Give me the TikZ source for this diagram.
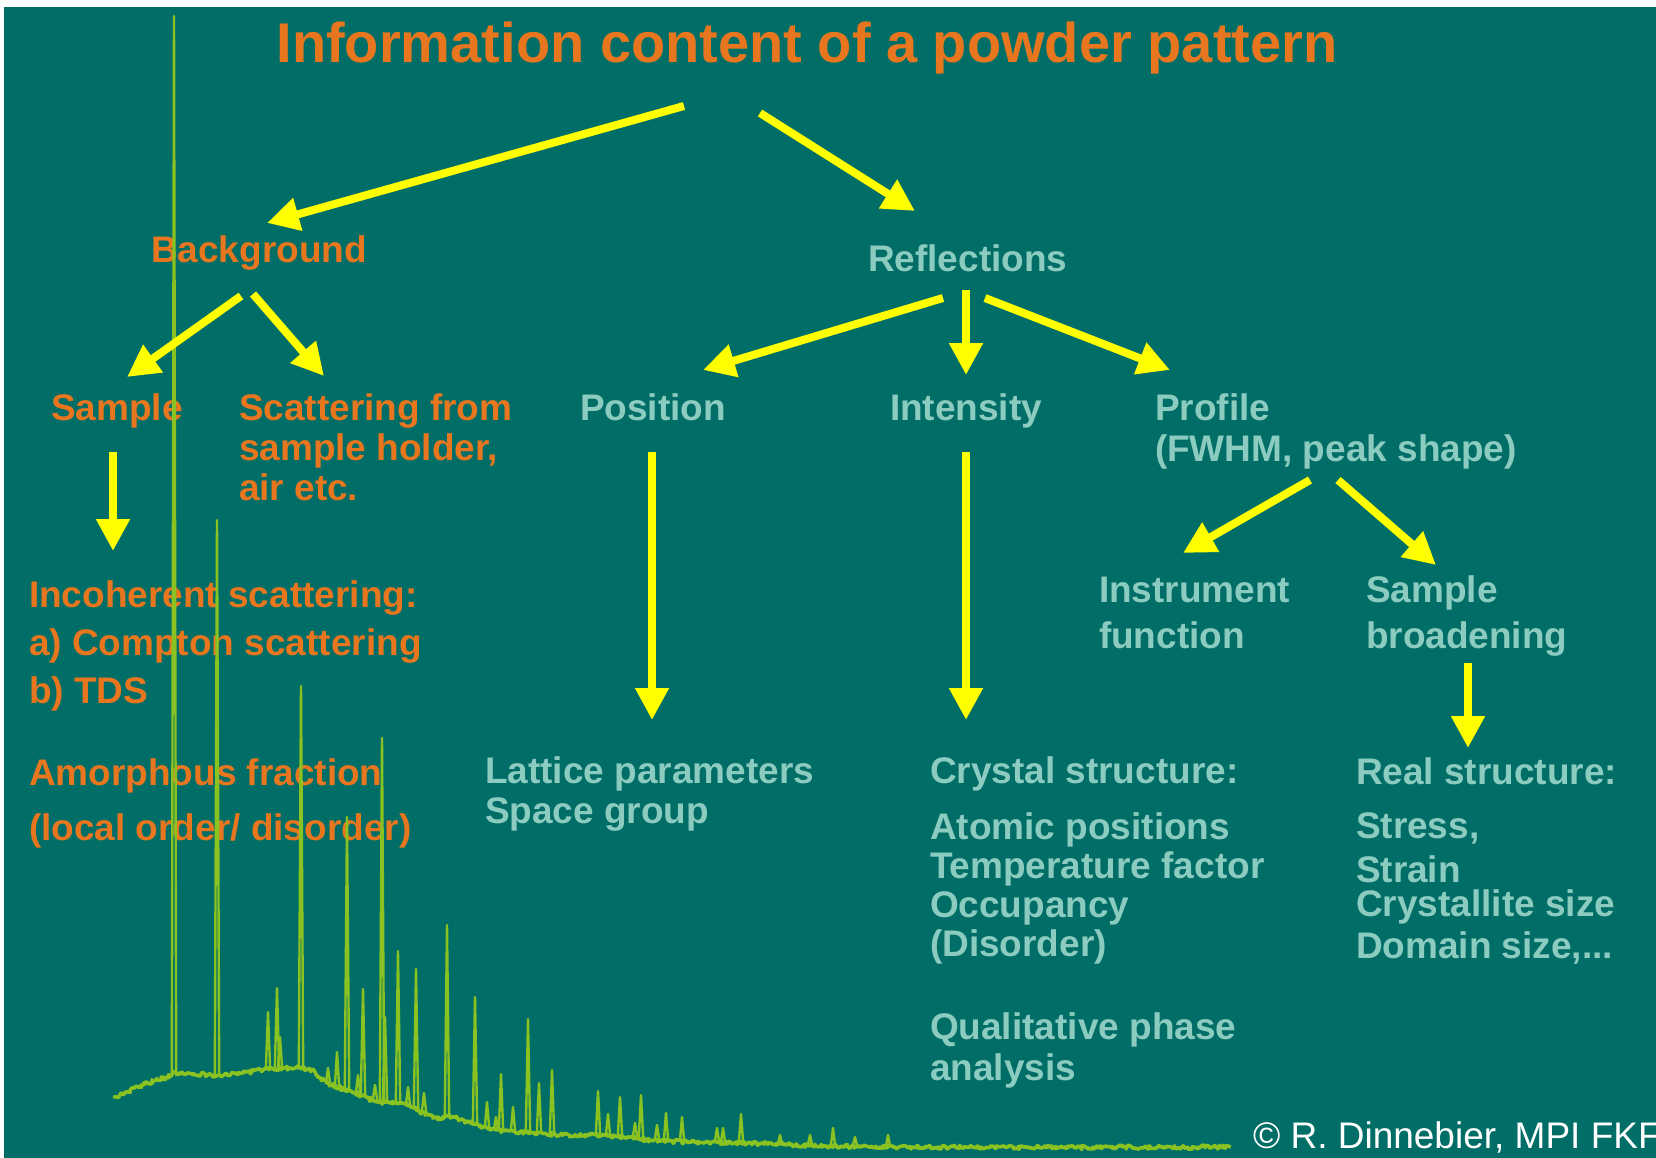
\documentclass[tikz,border=0pt]{standalone}
\usepackage{fontspec}
\setmainfont{Liberation Sans}
\usetikzlibrary{arrows.meta,decorations.pathmorphing}
\definecolor{teal0}{RGB}{0,110,102}
\definecolor{orangetxt}{RGB}{232,118,30}
\definecolor{lighttxt}{RGB}{140,204,192}
\definecolor{specgreen}{RGB}{138,194,34}
\definecolor{arrowyellow}{RGB}{255,255,0}
\newcommand\firstln{\rule{0pt}{30pt}}
\begin{document}
\begin{tikzpicture}[x=1pt,y=-1pt,
  every node/.style={inner sep=0pt, outer sep=0pt},
  lbl/.style={font=\fontsize{37}{40}\selectfont\bfseries, anchor=base west},
  blk/.style={font=\fontsize{37}{#1}\selectfont\bfseries, anchor=north west, align=left},
  org/.style={text=orangetxt},
  lgt/.style={text=lighttxt},
  yarrow/.style={draw=arrowyellow, line width=8pt, -{Triangle[length=32pt,width=32pt]}},
  spec/.style={draw=specgreen, line width=2.4pt, line join=round},
]
\useasboundingbox (0,0) rectangle (1656,1158);
\fill[white] (0,0) rectangle (1656,1158);
\fill[teal0] (4,7.5) rectangle (1656,1158);

% title
\node[font=\fontsize{56}{60}\selectfont\bfseries, text=orangetxt, anchor=base] (title) at (807,63) {Information content of a powder pattern};

% left branch (orange)
\node[lbl, org] (bg) at (151,262) {Background};
\node[lbl, org] (sample) at (51,420) {Sample};
\node[blk=40, org] (scat) at (239,390) {\firstln Scattering from\\sample holder,\\air etc.};
\node[blk=48, org] (incoh) at (29,577) {\firstln Incoherent scattering:\\a) Compton scattering\\b) TDS};
\node[blk=55, org] (amorph) at (29,755) {\firstln Amorphous fraction\\(local order/ disorder)};

% right branch (light)
\node[lbl, lgt] (refl) at (868,272) {Reflections};
\node[lbl, lgt] (pos) at (580,420) {Position};
\node[lbl, lgt] (inten) at (890,420) {Intensity};
\node[blk=41, lgt] (prof) at (1155,390) {\firstln Profile\\(FWHM, peak shape)};
\node[blk=46, lgt] (instr) at (1099,572) {\firstln Instrument\\function};
\node[blk=46, lgt] (sbroad) at (1366,572) {\firstln Sample\\broadening};
\node[blk=40, lgt] (latt) at (485,753) {\firstln Lattice parameters\\Space group};
\node[lbl, lgt] (cryst) at (930,783) {Crystal structure:};
\node[blk=39.3, lgt] (atomic) at (930,809) {\firstln Atomic positions\\Temperature factor\\Occupancy\\(Disorder)};
\node[blk=41, lgt] (qual) at (930,1009) {\firstln Qualitative phase\\analysis};
\node[lbl, lgt] (real) at (1356,784) {Real structure:};
\node[blk=40, lgt] (rlist) at (1356,808) {\firstln Stress,\\[4pt]Strain\\[-6pt]Crystallite size\\[2pt]Domain size,...};

% copyright
\node[font=\fontsize{37}{40}\selectfont, text=white, anchor=base west] (copy) at (1253,1148) {© R. Dinnebier, MPI FKF};

% powder pattern
\pgfmathsetseed{7}
\draw[spec, line width=3.6pt, decorate, decoration={random steps, segment length=1.5pt, amplitude=2pt}]
  plot[smooth, tension=0.5] coordinates {(115,1098) (143,1085) (167,1077) (180,1073) (212,1075) (227,1075) (263,1070) (290,1068) (310,1070) (327,1083) (353,1092) (372,1100) (390,1103) (402,1103) (433,1117) (453,1117) (470,1123) (497,1130) (520,1132) (560,1135) (590,1135) (628,1137) (650,1140) (690,1142) (750,1143) (880,1147) (1230,1147)};
\foreach \px/\pt/\pb in {174/16/1076, 217/520/1075, 268/1012/1070, 277/988/1069, 280/1037/1069, 301/686/1069,
  328/1068/1084, 337/1052/1087, 347/817/1089, 358/1075/1093, 363/989/1095, 375/1085/1100, 382/738/1101,
  385/1017/1102, 398/951/1103, 408/1087/1106, 416/969/1109, 424/1093/1112, 447/925/1117, 475/997/1125,
  487/1102/1128, 496/1117/1130, 501/1074/1131, 513/1107/1132, 528/1019/1133, 539/1083/1133, 552/1070/1134,
  598/1091/1135, 608/1114/1136, 620/1097/1136, 635/1123/1137, 641/1095/1138, 657/1125/1140, 666/1113/1141,
  682/1117/1142, 717/1128/1142, 723/1128/1143, 741/1114/1143, 780/1135/1145, 810/1135/1145, 833/1128/1146,
  855/1137/1146, 888/1135/1147}
  \draw[spec] (\px-2.2,\pb) -- (\px,\pt) -- (\px+2.2,\pb);

% arrow end points
\coordinate (a1s) at (684,106);  \coordinate (a1e) at (267,223);
\coordinate (a2s) at (760,113);  \coordinate (a2e) at (915,211);
\coordinate (a3s) at (241,296);  \coordinate (a3e) at (127,377);
\coordinate (a4s) at (253,294);  \coordinate (a4e) at (324,376);
\coordinate (a5s) at (113,452);  \coordinate (a5e) at (113,551);
\coordinate (a6s) at (943,298);  \coordinate (a6e) at (703,370);
\coordinate (a7s) at (966,290);  \coordinate (a7e) at (966,375);
\coordinate (a8s) at (985,298);  \coordinate (a8e) at (1170,370);
\coordinate (a9s) at (652,452);  \coordinate (a9e) at (652,720);
\coordinate (a10s) at (966,452); \coordinate (a10e) at (966,720);
\coordinate (a11s) at (1310,480); \coordinate (a11e) at (1183,553);
\coordinate (a12s) at (1338,480); \coordinate (a12e) at (1436,565);
\coordinate (a13s) at (1468,663); \coordinate (a13e) at (1468,748);

\foreach \i in {1,...,13} \draw[yarrow] (a\i s) -- (a\i e);
\end{tikzpicture}
\end{document}
